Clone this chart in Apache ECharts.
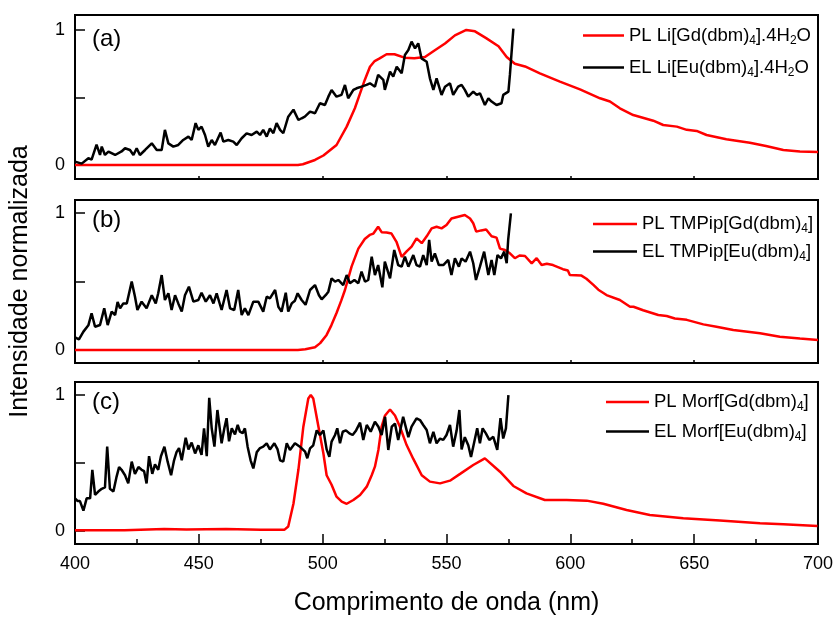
<!DOCTYPE html>
<html>
<head>
<meta charset="utf-8">
<script src="https://cdn.jsdelivr.net/npm/echarts@6/dist/echarts.min.js"></script>
<style>html,body{margin:0;padding:0;background:#fff}#c{width:836px;height:617px}</style>
</head>
<body>
<div id="c"></div>
<script>
// ---------- DATA ----------
var xTicks = [400, 450, 500, 550, 600, 650, 700];
var yTickValues = [0, 0.5, 1];
var yLabelValues = [0, 1];
var panelLabels = ['(a)', '(b)', '(c)'];
var xTitle = 'Comprimento de onda (nm)';
var yTitle = 'Intensidade normalizada';

var namesA = ['PL Li[Gd(dbm)4].4H2O', 'EL Li[Eu(dbm)4].4H2O'];
var namesB = ['PL TMPip[Gd(dbm)4]', 'EL TMPip[Eu(dbm)4]'];
var namesC = ['PL Morf[Gd(dbm)4]', 'EL Morf[Eu(dbm)4]'];

var plA = [[400,0],[490,0],[492,0.005],[496.9,0.037],[500.3,0.07],[505.6,0.148],[509.7,0.284],[513,0.42],[515.1,0.53],[517,0.63],[519.1,0.728],[521,0.77],[523,0.79],[525.8,0.82],[529,0.82],[533,0.795],[537,0.79],[541.3,0.8],[545.3,0.85],[549.4,0.9],[553.4,0.96],[558,1.0],[561.5,0.99],[566,0.94],[571,0.88],[574.3,0.8],[577.6,0.75],[581.7,0.73],[587.7,0.679],[595.8,0.617],[603.9,0.56],[612,0.494],[616,0.47],[620,0.42],[625.4,0.37],[633.5,0.328],[637.5,0.296],[643,0.284],[647,0.26],[651,0.252],[655,0.222],[663,0.19],[672.5,0.165],[679,0.14],[686,0.111],[692.7,0.099],[700,0.096]];

var elA = [[400,0.025],[402.7,0.01],[405.4,0.05],[406.7,0.04],[408.7,0.15],[410.1,0.074],[410.8,0.136],[412.1,0.074],[413.5,0.099],[416.2,0.074],[418.8,0.1],[420.2,0.124],[422.2,0.111],[423.6,0.074],[424.9,0.124],[426.2,0.074],[428.3,0.111],[431,0.16],[433,0.111],[435,0.111],[436.3,0.26],[437.7,0.16],[439.7,0.136],[441.7,0.148],[443.7,0.185],[445.8,0.21],[447.1,0.185],[448.7,0.31],[449.8,0.26],[451.1,0.284],[452.5,0.222],[453.8,0.136],[455.2,0.185],[456.5,0.148],[458.8,0.24],[459.9,0.173],[461.9,0.185],[463.9,0.173],[465.3,0.148],[467.3,0.198],[469.3,0.234],[471.3,0.222],[473.4,0.247],[474.7,0.222],[476,0.26],[477.4,0.21],[478.7,0.27],[480.1,0.235],[481.4,0.31],[482.8,0.26],[484.1,0.235],[486.1,0.358],[488.2,0.41],[490.2,0.333],[491.5,0.346],[492.8,0.358],[494.9,0.395],[496.9,0.383],[498.9,0.457],[500.9,0.444],[502.3,0.506],[503.6,0.556],[505.6,0.506],[507.6,0.519],[509,0.593],[510.3,0.494],[512.4,0.556],[513.7,0.568],[515.7,0.58],[517.7,0.593],[519.1,0.605],[521.1,0.58],[522.4,0.667],[524.5,0.63],[525.1,0.556],[527.2,0.691],[528.5,0.654],[529.9,0.728],[531.9,0.679],[533.2,0.815],[534.6,0.852],[535.9,0.914],[537.3,0.864],[538.6,0.901],[539.9,0.79],[542,0.765],[543.3,0.642],[544.7,0.556],[546,0.642],[548,0.519],[549.4,0.58],[551.4,0.605],[552.7,0.519],[554.7,0.58],[556.1,0.593],[557.4,0.556],[558.8,0.506],[560.8,0.543],[562.2,0.519],[563.5,0.531],[565.5,0.444],[566.9,0.494],[568.2,0.47],[570.2,0.444],[572.2,0.457],[572.9,0.519],[575,0.543],[575.6,0.667],[577,1.01]];

var plB = [[400,0],[490,0],[493,0.005],[496.9,0.02],[499,0.05],[501.6,0.11],[503.5,0.18],[505.6,0.27],[507.5,0.36],[509,0.438],[511.7,0.61],[514.4,0.74],[517,0.81],[519,0.84],[520.5,0.85],[522.4,0.9],[523.8,0.86],[525.8,0.857],[527.8,0.85],[529.8,0.79],[531.9,0.68],[533.9,0.72],[535.9,0.755],[537.9,0.815],[540,0.78],[542,0.83],[544,0.888],[546,0.9],[548,0.888],[550,0.912],[552,0.96],[554.7,0.973],[557.4,0.985],[559.5,0.96],[560.8,0.925],[562,0.864],[564,0.873],[566,0.88],[568.2,0.83],[570.2,0.82],[571.6,0.74],[573.6,0.73],[575.6,0.706],[577.6,0.67],[579.5,0.69],[581.7,0.686],[584.4,0.633],[586.4,0.67],[588.4,0.62],[590.5,0.63],[593,0.62],[597,0.59],[599,0.58],[599.8,0.548],[604.5,0.543],[606.5,0.52],[609.3,0.475],[611.3,0.44],[614.6,0.401],[620,0.365],[624.1,0.316],[625.5,0.316],[629.4,0.29],[635.5,0.255],[638.9,0.248],[642.2,0.23],[647,0.22],[653.7,0.187],[659,0.17],[665.8,0.146],[676.6,0.122],[684.6,0.097],[692.7,0.083],[700,0.073]];

var elB = [[400,0.092],[401.6,0.078],[403.4,0.134],[405.4,0.18],[406.7,0.268],[408.1,0.17],[410.1,0.182],[411.8,0.304],[413.2,0.182],[414.8,0.28],[416.2,0.255],[417.2,0.35],[418.2,0.304],[419.5,0.34],[420.9,0.34],[422.9,0.499],[424.2,0.39],[425.2,0.292],[426.9,0.353],[428.9,0.304],[431,0.4],[432.6,0.34],[433.6,0.414],[435,0.547],[436.3,0.365],[437.7,0.414],[439,0.292],[440.4,0.4],[441.7,0.34],[443.1,0.28],[444.4,0.4],[446,0.462],[447.8,0.353],[449.8,0.365],[451.1,0.418],[452.8,0.353],[454.5,0.4],[455.9,0.34],[457.2,0.414],[459.2,0.292],[461.2,0.438],[462.6,0.304],[464.3,0.292],[465.9,0.438],[467.3,0.255],[468.6,0.304],[470,0.255],[472,0.353],[474,0.353],[476,0.28],[477.4,0.389],[478.7,0.377],[480.8,0.438],[482.1,0.316],[483.4,0.28],[485.1,0.418],[486.1,0.28],[487.5,0.34],[488.8,0.36],[489.9,0.414],[491.5,0.365],[493.1,0.33],[494.9,0.438],[496.9,0.474],[498.5,0.4],[499.6,0.37],[501.2,0.4],[502.3,0.426],[503.6,0.523],[505,0.499],[506.3,0.511],[508.3,0.474],[509.7,0.547],[511,0.487],[512.8,0.511],[514.4,0.487],[515.7,0.572],[517.1,0.499],[518.4,0.511],[519.8,0.681],[521.1,0.547],[522.4,0.62],[524.1,0.457],[525.1,0.645],[527.2,0.523],[528.9,0.73],[530.5,0.62],[531.9,0.608],[533.2,0.681],[534.6,0.608],[536.6,0.693],[537.9,0.62],[539.3,0.608],[540.6,0.693],[542,0.62],[543,0.803],[544,0.645],[545.3,0.705],[546.9,0.62],[548.7,0.62],[550.7,0.657],[552,0.547],[553.4,0.669],[555,0.608],[556.1,0.669],[557.7,0.645],[559.5,0.718],[560.8,0.633],[561.9,0.511],[563.5,0.608],[565.2,0.718],[566.9,0.547],[568.2,0.657],[569.3,0.547],[570.6,0.693],[572,0.669],[573.3,0.718],[574.3,0.633],[574.9,0.803],[576,0.998]];

var plC = [[400,0.005],[420,0.005],[436,0.015],[445,0.01],[461,0.015],[475,0.008],[484.5,0.008],[486.1,0.033],[488.2,0.2],[490.2,0.45],[492.2,0.767],[494.2,0.975],[495.2,1.0],[496.2,0.975],[498.3,0.767],[500.3,0.57],[501.6,0.41],[503.6,0.34],[505.6,0.252],[507.7,0.216],[509.7,0.2],[512.4,0.228],[515.1,0.265],[517.8,0.326],[519.8,0.41],[521.1,0.473],[522.5,0.596],[523.8,0.767],[525.2,0.85],[527.2,0.894],[529.2,0.85],[531.2,0.767],[533.9,0.632],[536.6,0.53],[540,0.41],[543.3,0.363],[547.4,0.35],[551.4,0.37],[555.5,0.42],[560.8,0.485],[565.5,0.534],[571.6,0.436],[577,0.331],[582.3,0.277],[589.7,0.228],[598.5,0.228],[606.6,0.223],[613.3,0.2],[622.7,0.154],[632.1,0.118],[645.6,0.094],[660.4,0.077],[676.6,0.057],[686,0.05],[699.8,0.037]];

var elC = [[400,0.24],[401.1,0.22],[402,0.22],[403.4,0.15],[404.7,0.24],[406.1,0.24],[407,0.45],[408.1,0.265],[409.4,0.29],[410.8,0.31],[412.1,0.32],[413,0.62],[414.1,0.31],[415.5,0.29],[416.8,0.4],[417.8,0.47],[418.8,0.45],[420.2,0.41],[421.5,0.35],[422.9,0.51],[424.2,0.42],[425.6,0.47],[426.9,0.45],[427.9,0.44],[428.9,0.35],[429.9,0.55],[431.2,0.42],[432.3,0.49],[433.6,0.45],[434.7,0.55],[436.1,0.62],[437.4,0.51],[438.8,0.41],[440,0.52],[441,0.58],[442,0.61],[443.1,0.52],[444.7,0.686],[445.8,0.6],[447.1,0.65],[448.5,0.57],[449.8,0.63],[451.1,0.56],[452.1,0.755],[453.2,0.55],[454.2,0.98],[455.2,0.755],[456.3,0.62],[457.5,0.89],[458.3,0.89],[459.2,0.645],[460.3,0.755],[461.2,0.83],[462.2,0.66],[463.3,0.755],[464.6,0.71],[465.7,0.78],[466.6,0.73],[467.7,0.72],[468.6,0.755],[469.7,0.62],[470.9,0.52],[472,0.46],[473.4,0.58],[474.7,0.61],[476,0.62],[477.4,0.645],[478.7,0.6],[480.5,0.645],[481.8,0.6],[482.8,0.52],[484.1,0.51],[485.5,0.645],[486.8,0.596],[488.8,0.645],[490.8,0.62],[492.9,0.583],[493.8,0.535],[494.9,0.607],[496.2,0.63],[497.6,0.74],[498.9,0.706],[500.3,0.74],[501.6,0.6],[502.7,0.546],[503.6,0.657],[505,0.706],[505.9,0.755],[507,0.645],[508.1,0.73],[509.4,0.74],[510.8,0.718],[512.1,0.706],[513.5,0.74],[515.1,0.797],[516.4,0.67],[517.8,0.78],[519.4,0.73],[521.1,0.804],[522.5,0.767],[523.8,0.706],[525.2,0.84],[526.5,0.596],[527.9,0.767],[529.2,0.79],[530.5,0.67],[532.5,0.84],[534.6,0.69],[535.9,0.767],[537.9,0.828],[539.3,0.816],[540.6,0.78],[542,0.743],[543.3,0.645],[544.7,0.73],[546,0.645],[547.4,0.68],[548.7,0.67],[550,0.706],[551.4,0.78],[552.7,0.62],[554.1,0.74],[555.2,0.89],[556.1,0.6],[557.4,0.69],[558.8,0.63],[559.9,0.545],[561.1,0.645],[562.4,0.755],[563.5,0.645],[564.6,0.755],[565.9,0.718],[567.3,0.67],[568.9,0.693],[570.5,0.596],[571.8,0.83],[572.9,0.68],[574,0.755],[575,1.0]];

// ---------- CHART ----------
var FONT = "'Liberation Sans', Arial, sans-serif";
function richName(name) {
  return '{n|' + name.replace(/(\)|H)(\d)/g, '$1}{s|$2}{n|') + '}';
}
var rich = {
  n: { fontSize: 18.5, fontFamily: FONT, color: '#000', lineHeight: 22, verticalAlign: 'middle' },
  s: { fontSize: 12, fontFamily: FONT, color: '#000', lineHeight: 22, verticalAlign: 'bottom', padding: [9, 0, 0, 0] }
};

var panels = [
  { top: 15, height: 164, min: -0.104, max: 1.111, names: namesA, pl: plA, el: elA, legLeft: 583, legTop: 25.5, legGap: 11, legW: 41, lab: 27 },
  { top: 200, height: 163, min: -0.095, max: 1.095, names: namesB, pl: plB, el: elB, legLeft: 593, legTop: 214, legGap: 6.5, legW: 44, lab: 208 },
  { top: 382, height: 162, min: -0.096, max: 1.096, names: namesC, pl: plC, el: elC, legLeft: 606, legTop: 392, legGap: 8.5, legW: 43, lab: 390 }
];

var grids = [], xAxes = [], yAxes = [], series = [], legends = [], graphics = [];
panels.forEach(function (p, i) {
  var last = i === 2;
  grids.push({ left: 75, width: 743, top: p.top, height: p.height, show: true, borderColor: '#000', borderWidth: 2, backgroundColor: 'transparent' });
  xAxes.push({
    type: 'value', gridIndex: i, min: 400, max: 700, interval: 50, position: 'bottom',
    axisLine: { show: false, onZero: false }, splitLine: { show: false },
    axisTick: { show: true, inside: true, length: last ? 10 : 3, lineStyle: { color: '#000', width: 1.5 } },
    minorTick: { show: last, splitNumber: 2, length: 5, lineStyle: { color: '#000', width: 1.5 } },
    axisLabel: { show: last, fontSize: 18, fontFamily: FONT, color: '#000', margin: 11 },
    name: last ? xTitle : '', nameLocation: 'middle', nameGap: 47,
    nameTextStyle: { fontSize: 25, fontFamily: FONT, color: '#000' }
  });
  yAxes.push({
    type: 'value', gridIndex: i, min: p.min, max: p.max, position: 'left',
    axisLine: { show: false, onZero: false }, splitLine: { show: false },
    axisTick: { show: true, inside: true, length: 10, customValues: yTickValues, lineStyle: { color: '#000', width: 1.5 } },
    axisLabel: { show: true, customValues: yLabelValues, fontSize: 18, fontFamily: FONT, color: '#000', margin: 10 },
    name: i === 1 ? yTitle : '', nameLocation: 'middle', nameGap: 42, nameRotate: 90,
    nameTextStyle: { fontSize: 25, fontFamily: FONT, color: '#000' }
  });
  series.push({ name: p.names[0], type: 'line', xAxisIndex: i, yAxisIndex: i, data: p.pl, symbol: 'none', lineStyle: { color: '#ff0000', width: 2.5 }, itemStyle: { color: '#ff0000' }, z: 2, animation: false });
  series.push({ name: p.names[1], type: 'line', xAxisIndex: i, yAxisIndex: i, data: p.el, symbol: 'none', lineStyle: { color: '#000', width: 2.5 }, itemStyle: { color: '#000' }, z: 3, animation: false });
  legends.push({
    data: p.names, orient: 'vertical', left: p.legLeft, top: p.legTop, padding: 0, icon: 'rect',
    itemGap: p.legGap, itemWidth: p.legW, itemHeight: 2.5, selectedMode: false,
    formatter: richName, textStyle: { rich: rich, fontSize: 18.5, fontFamily: FONT, color: '#000' }
  });
  graphics.push({ type: 'text', left: 92, top: p.lab, style: { text: panelLabels[i], fontSize: 24, fontFamily: FONT, fill: '#000' } });
});

var chart = echarts.init(document.getElementById('c'), null, { renderer: 'canvas' });
chart.setOption({
  animation: false,
  backgroundColor: '#fff',
  grid: grids, xAxis: xAxes, yAxis: yAxes, series: series, legend: legends, graphic: graphics
});
</script>
</body>
</html>
